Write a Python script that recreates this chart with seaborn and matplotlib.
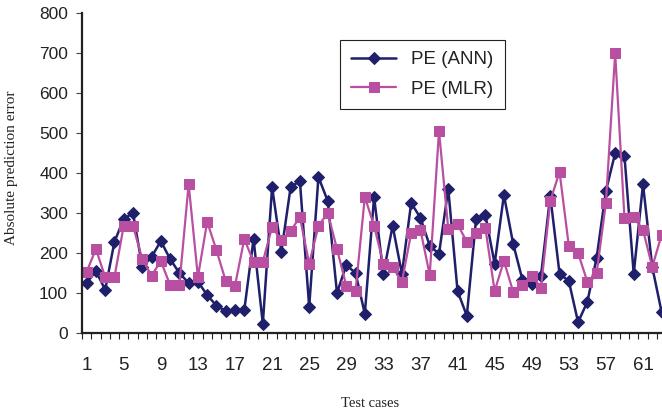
import numpy as np
import matplotlib
matplotlib.use("Agg")
import matplotlib.pyplot as plt
import seaborn as sns
from matplotlib.ticker import FixedLocator

# --- data ---
casos = list(range(1, 64))

pe_ann = [125, 155, 108, 228, 285, 300, 165, 190, 230, 185,
          150, 125, 128, 95, 68, 55, 57, 57, 235, 23,
          365, 203, 365, 380, 65, 390, 330, 100, 170, 150,
          48, 340, 148, 268, 148, 325, 288, 218, 198, 360,
          105, 43, 285, 295, 173, 345, 223, 133, 123, 143,
          343, 148, 130, 27, 78, 188, 355, 450, 443, 148,
          372, 165, 53]

pe_mlr = [153, 210, 140, 140, 268, 268, 185, 143, 180, 120,
          120, 372, 140, 278, 207, 130, 118, 235, 178, 178,
          265, 232, 255, 290, 173, 268, 300, 210, 118, 105,
          340, 268, 173, 165, 128, 250, 258, 145, 505, 260,
          272, 228, 250, 263, 105, 180, 103, 120, 143, 113,
          330, 403, 218, 200, 128, 150, 325, 700, 288, 290,
          258, 165, 245]

rotulos_x = list(range(1, 62, 4))

# --- estilo ---
sns.set_style("white")
plt.rcParams["font.family"] = ["Liberation Sans", "DejaVu Sans"]

cor_ann = "#1f1f6b"
cor_mlr = "#b94fa1"

fig = plt.figure(figsize=(6.62, 4.12), dpi=100)
ax = fig.add_axes([82 / 662, 79 / 412, 580 / 662, 320 / 412])

sns.lineplot(x=casos, y=pe_ann, ax=ax, color=cor_ann, linewidth=1.8,
             marker="D", markersize=6.5, markeredgecolor=cor_ann,
             label="PE (ANN)")
sns.lineplot(x=casos, y=pe_mlr, ax=ax, color=cor_mlr, linewidth=1.6,
             marker="s", markersize=7.5, markeredgecolor=cor_mlr,
             label="PE (MLR)")

ax.set_xlim(0.5, 63.05)
ax.set_ylim(0, 800)
ax.set_yticks(range(0, 801, 100))
ax.xaxis.set_major_locator(FixedLocator(rotulos_x))
ax.set_xticklabels([str(r) for r in rotulos_x])
ax.xaxis.set_minor_locator(FixedLocator(np.arange(0.5, 63.6, 1)))

ax.tick_params(axis="x", which="major", length=0, pad=17, labelsize=13.5,
               labelcolor="#222222")
ax.tick_params(axis="x", which="minor", length=4, width=0.8, direction="out",
               color="#222222", bottom=True)
ax.tick_params(axis="y", which="major", length=4, width=0.8, direction="out",
               pad=6, labelsize=12.5, labelcolor="#222222", color="#444444", left=True)

for lado in ["top", "right"]:
    ax.spines[lado].set_visible(False)
for lado in ["left", "bottom"]:
    ax.spines[lado].set_color("#222222")
    ax.spines[lado].set_linewidth(1.6)

ax.set_xlabel("Test cases", family="Liberation Serif", fontsize=10.5, color="#222222")
ax.set_ylabel("Absolute prediction error", family="Liberation Serif", fontsize=11,
              color="#222222")
ax.xaxis.set_label_coords((370 - 82) / 580, -(397 - 333) / 320)
ax.yaxis.set_label_coords((18 - 82) / 580, (333 - 168) / 320)

leg = ax.legend(loc="upper left", bbox_to_anchor=((340 - 82) / 580, (333 - 40) / 320),
                borderaxespad=0, fontsize=13.5, frameon=True, fancybox=False,
                framealpha=1, borderpad=0.6, handlelength=2.4, labelspacing=0.65)
leg.get_frame().set_edgecolor("#222222")
leg.get_frame().set_linewidth(0.8)
for t in leg.get_texts():
    t.set_color("#222222")

fig.savefig("out.png", dpi=100)
